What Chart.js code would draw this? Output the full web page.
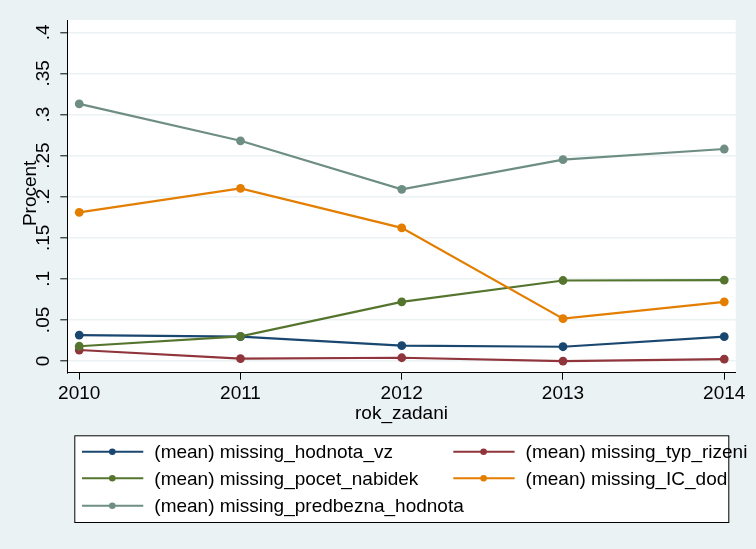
<!DOCTYPE html>
<html>
<head>
<meta charset="utf-8">
<script src="https://cdn.jsdelivr.net/npm/chart.js@4.4.0/dist/chart.umd.min.js"></script>
<style>
  html, body { margin: 0; padding: 0; background: #eaf2f3; }
  #wrap { width: 756px; height: 549px; }
</style>
</head>
<body>
<div id="wrap"><canvas id="graf" width="756" height="549"></canvas></div>
<script>
// --- data ---
const roky = [2010, 2011, 2012, 2013, 2014];
const hodnotaVz = [0.0316, 0.0296, 0.0187, 0.0174, 0.0296];
const typRizeni = [0.0134, 0.0030, 0.0040, 0.0000, 0.0024];
const pocetNabidek = [0.0180, 0.0300, 0.0720, 0.0980, 0.0985];
const icDod = [0.1810, 0.2100, 0.1620, 0.0515, 0.0720];
const predbeznaHodnota = [0.3130, 0.2680, 0.2090, 0.2450, 0.2580];

const nazvy = [
  '(mean) missing_hodnota_vz',
  '(mean) missing_typ_rizeni',
  '(mean) missing_pocet_nabidek',
  '(mean) missing_IC_dod',
  '(mean) missing_predbezna_hodnota'
];
const barvy = ['#1a476f', '#90353b', '#55752f', '#e37e00', '#6e8e84'];

const yTickValues = [0, 0.05, 0.1, 0.15, 0.2, 0.25, 0.3, 0.35, 0.4];
const yTickLabels = ['0', '.05', '.1', '.15', '.2', '.25', '.3', '.35', '.4'];
const xTickValues = [2010, 2011, 2012, 2013, 2014];

const PISMO = "'Liberation Sans', Arial, sans-serif";

function body(hodnoty) {
  return roky.map((r, i) => ({ x: r, y: hodnoty[i] }));
}

const serie = [hodnotaVz, typRizeni, pocetNabidek, icDod, predbeznaHodnota];

const datasets = serie.map((s, i) => ({
  label: nazvy[i],
  data: body(s),
  borderColor: barvy[i],
  backgroundColor: barvy[i],
  borderWidth: 2.2,
  pointRadius: 4.4,
  pointBorderWidth: 0,
  pointBackgroundColor: barvy[i],
  tension: 0,
  order: serie.length - i
}));

// pozadi grafu a bila plocha
const pozadi = {
  id: 'pozadi',
  beforeDraw(chart) {
    const { ctx, chartArea: a } = chart;
    ctx.save();
    ctx.fillStyle = '#eaf2f3';
    ctx.fillRect(0, 0, chart.width, chart.height);
    ctx.fillStyle = '#ffffff';
    ctx.fillRect(a.left, a.top, a.right - a.left, a.bottom - a.top);
    ctx.restore();
  }
};

// popisek osy y (prekryva popisky ticku jako ve State)
const popisekY = {
  id: 'popisekY',
  afterDraw(chart) {
    const { ctx, chartArea: a } = chart;
    ctx.save();
    ctx.translate(a.left - 36.6, (a.top + a.bottom) / 2 - 3);
    ctx.rotate(-Math.PI / 2);
    ctx.font = '19px ' + PISMO;
    ctx.fillStyle = '#000';
    ctx.textAlign = 'center';
    ctx.textBaseline = 'middle';
    ctx.fillText('Procent', 0, 0);
    ctx.restore();
  }
};

// legenda ve dvou sloupcich
const legenda = {
  id: 'legenda',
  afterDraw(chart) {
    const { ctx } = chart;
    const box = { left: 74.3, top: 435.3, right: 728.3, bottom: 522 };
    const sloupce = [7.7, 379];
    const radky = [16.4, 43, 70.4];
    ctx.save();
    ctx.fillStyle = '#fff';
    ctx.fillRect(box.left, box.top, box.right - box.left, box.bottom - box.top);
    ctx.strokeStyle = '#000';
    ctx.lineWidth = 1;
    ctx.strokeRect(box.left + 0.5, box.top + 0.5, box.right - box.left, box.bottom - box.top);
    ctx.font = '19px ' + PISMO;
    ctx.textBaseline = 'middle';
    ctx.textAlign = 'left';
    chart.data.datasets.forEach((ds, i) => {
      const x = box.left + sloupce[i % 2];
      const y = box.top + radky[Math.floor(i / 2)];
      ctx.strokeStyle = ds.borderColor;
      ctx.lineWidth = 2;
      ctx.beginPath();
      ctx.moveTo(x, y);
      ctx.lineTo(x + 61.3, y);
      ctx.stroke();
      ctx.fillStyle = ds.borderColor;
      ctx.beginPath();
      ctx.arc(x + 30.3, y, 3.3, 0, Math.PI * 2);
      ctx.fill();
      ctx.fillStyle = '#000';
      ctx.fillText(ds.label, x + 72.3, y + 1);
    });
    ctx.restore();
  }
};

new Chart(document.getElementById('graf'), {
  type: 'line',
  data: { datasets: datasets },
  plugins: [pozadi, popisekY, legenda],
  options: {
    responsive: false,
    animation: false,
    devicePixelRatio: 1,
    layout: { padding: { left: 0, top: 20, right: 20.3, bottom: 124.2 } },
    plugins: {
      legend: { display: false },
      tooltip: { enabled: false }
    },
    scales: {
      x: {
        type: 'linear',
        min: 2009.926,
        max: 2014.071,
        afterBuildTicks(scale) {
          scale.ticks = xTickValues.map(v => ({ value: v }));
        },
        afterFit(scale) { scale.height = 52.1; },
        ticks: {
          color: '#000',
          padding: 3,
          maxRotation: 0,
          autoSkip: false,
          font: { family: PISMO, size: 19 },
          callback: (v) => String(v)
        },
        grid: {
          display: true,
          drawOnChartArea: false,
          tickLength: 7,
          tickColor: '#000',
          tickWidth: 1
        },
        border: { display: true, color: '#000', width: 1 },
        title: {
          display: true,
          text: 'rok_zadani',
          color: '#000',
          padding: { top: 0, bottom: 0 },
          font: { family: PISMO, size: 19 }
        }
      },
      y: {
        type: 'linear',
        min: -0.0142,
        max: 0.415,
        afterBuildTicks(scale) {
          scale.ticks = yTickValues.map(v => ({ value: v }));
        },
        afterFit(scale) { scale.width = 67.3; },
        ticks: {
          color: '#000',
          padding: 3,
          minRotation: 90,
          maxRotation: 90,
          crossAlign: 'center',
          autoSkip: false,
          font: { family: PISMO, size: 19 },
          callback: (v) => {
            const i = yTickValues.findIndex(t => Math.abs(t - v) < 1e-9);
            return i >= 0 ? yTickLabels[i] : '';
          }
        },
        grid: {
          display: true,
          drawOnChartArea: true,
          color: '#eaf2f3',
          lineWidth: 1.6,
          tickLength: 7,
          tickColor: '#000',
          tickWidth: 1
        },
        border: { display: true, color: '#000', width: 1 }
      }
    }
  }
});
</script>
</body>
</html>
